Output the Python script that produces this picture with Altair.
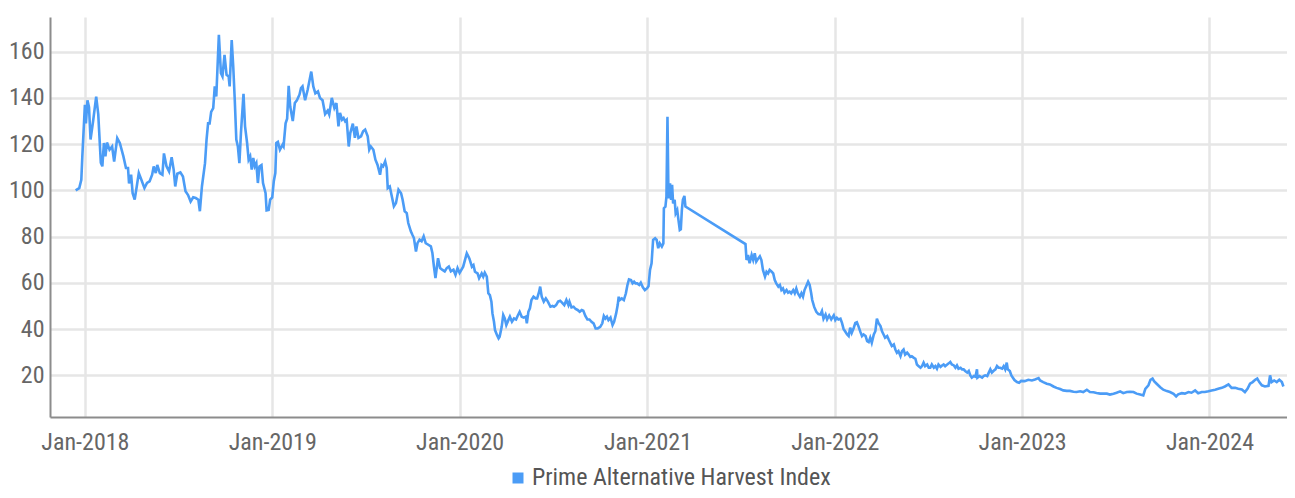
import altair as alt
import pandas as pd

SERIES_NAME = "Prime Alternative Harvest Index"
LINE_COLOR = "#4b9cf6"

# (date, index value), grouped by year
y2018 = [
    ("2017-12-14", 100), ("2017-12-21", 101), ("2017-12-25", 104.6), ("2017-12-27", 114.7),
    ("2018-01-01", 137), ("2018-01-03", 129), ("2018-01-06", 139), ("2018-01-09", 136),
    ("2018-01-12", 122), ("2018-01-17", 130), ("2018-01-23", 140.6), ("2018-01-27", 133),
    ("2018-02-01", 112), ("2018-02-04", 110.4), ("2018-02-07", 120.5), ("2018-02-10", 114.7),
    ("2018-02-13", 120.7), ("2018-02-18", 117.6), ("2018-02-23", 119), ("2018-02-27", 112.5),
    ("2018-03-05", 122.6), ("2018-03-10", 120.5), ("2018-03-17", 114.7), ("2018-03-22", 109.7),
    ("2018-03-26", 109.7), ("2018-03-28", 103), ("2018-04-01", 106.8), ("2018-04-04", 98.8),
    ("2018-04-08", 96), ("2018-04-12", 101.7), ("2018-04-16", 107.5), ("2018-04-21", 104.6),
    ("2018-04-27", 101), ("2018-05-02", 103.2), ("2018-05-07", 103.9), ("2018-05-12", 106.8),
    ("2018-05-15", 110.4), ("2018-05-19", 107.5), ("2018-05-22", 111), ("2018-05-27", 107.5),
    ("2018-06-01", 106.8), ("2018-06-04", 116), ("2018-06-09", 110.4), ("2018-06-14", 108.2),
    ("2018-06-19", 114.4), ("2018-06-23", 108.9), ("2018-06-26", 101.7), ("2018-06-30", 107.2),
    ("2018-07-06", 107.8), ("2018-07-11", 106), ("2018-07-16", 99.6), ("2018-07-21", 98),
    ("2018-07-26", 95.2), ("2018-07-31", 97), ("2018-08-05", 96.7), ("2018-08-10", 96),
    ("2018-08-13", 91), ("2018-08-17", 101.7), ("2018-08-23", 111.8), ("2018-08-26", 122),
    ("2018-08-29", 129), ("2018-09-01", 129), ("2018-09-04", 134), ("2018-09-08", 135.6),
    ("2018-09-11", 145), ("2018-09-14", 140.6), ("2018-09-19", 167.3), ("2018-09-23", 150.7),
    ("2018-09-26", 149.3), ("2018-09-30", 158.6), ("2018-10-04", 150), ("2018-10-08", 149.3),
    ("2018-10-10", 145), ("2018-10-14", 165), ("2018-10-17", 153.6), ("2018-10-20", 139),
    ("2018-10-23", 122), ("2018-10-26", 119), ("2018-10-29", 111.8), ("2018-11-01", 124.8),
    ("2018-11-06", 141.8), ("2018-11-09", 127.7), ("2018-11-13", 120.5), ("2018-11-16", 113.3),
    ("2018-11-19", 114.7), ("2018-11-22", 109), ("2018-11-25", 114), ("2018-11-28", 110.4),
    ("2018-12-01", 111.8), ("2018-12-04", 103.2), ("2018-12-07", 110.4), ("2018-12-11", 111),
    ("2018-12-14", 103.2), ("2018-12-19", 98.8), ("2018-12-21", 91.4), ("2018-12-25", 91.6),
    ("2018-12-28", 96),
]

y2019 = [
    ("2019-01-01", 97), ("2019-01-04", 104), ("2019-01-07", 107.5), ("2019-01-09", 120.5),
    ("2019-01-12", 121), ("2019-01-16", 117.6), ("2019-01-21", 119.7), ("2019-01-23", 119),
    ("2019-01-27", 129), ("2019-01-30", 131), ("2019-02-02", 145.2), ("2019-02-05", 136.3),
    ("2019-02-10", 130), ("2019-02-14", 137.8), ("2019-02-18", 139), ("2019-02-23", 141.4),
    ("2019-02-26", 144.2), ("2019-03-01", 145), ("2019-03-06", 139), ("2019-03-11", 143.5),
    ("2019-03-18", 151.4), ("2019-03-22", 145), ("2019-03-26", 142), ("2019-03-31", 142.8),
    ("2019-04-04", 140), ("2019-04-09", 139), ("2019-04-14", 133), ("2019-04-19", 134.5),
    ("2019-04-22", 132.8), ("2019-04-27", 140), ("2019-05-02", 135.7), ("2019-05-06", 137.8),
    ("2019-05-10", 127.7), ("2019-05-13", 133.5), ("2019-05-17", 130.6), ("2019-05-20", 131.3),
    ("2019-05-23", 129.9), ("2019-05-26", 130.6), ("2019-05-30", 119), ("2019-06-02", 124.8),
    ("2019-06-07", 128.9), ("2019-06-11", 122.7), ("2019-06-14", 127.7), ("2019-06-18", 122.7),
    ("2019-06-23", 123.4), ("2019-06-27", 125.6), ("2019-07-01", 126.3), ("2019-07-06", 123.4),
    ("2019-07-09", 117.6), ("2019-07-12", 119), ("2019-07-17", 117.6), ("2019-07-21", 113.3),
    ("2019-07-25", 111.1), ("2019-07-30", 106.8), ("2019-08-02", 111), ("2019-08-05", 110.4),
    ("2019-08-09", 112.6), ("2019-08-12", 109.7), ("2019-08-14", 101), ("2019-08-18", 101.7),
    ("2019-08-22", 97.4), ("2019-08-26", 93.1), ("2019-08-30", 94.5), ("2019-09-04", 100.3),
    ("2019-09-09", 98.8), ("2019-09-12", 96), ("2019-09-16", 91), ("2019-09-20", 90.2),
    ("2019-09-23", 85.9), ("2019-09-28", 82.3), ("2019-10-01", 80.8), ("2019-10-04", 79.4),
    ("2019-10-08", 73.6), ("2019-10-11", 77.2), ("2019-10-15", 78.7), ("2019-10-19", 78),
    ("2019-10-23", 80.1), ("2019-10-27", 77.2), ("2019-11-01", 76.5), ("2019-11-06", 75.8),
    ("2019-11-09", 72.9), ("2019-11-12", 67.1), ("2019-11-15", 62.1), ("2019-11-20", 70.7),
    ("2019-11-24", 66.4), ("2019-11-28", 65.7), ("2019-12-03", 65), ("2019-12-07", 66.4),
    ("2019-12-11", 67.1), ("2019-12-15", 65), ("2019-12-20", 65.7), ("2019-12-24", 63.5),
    ("2019-12-28", 66.4),
]

y2020 = [
    ("2020-01-01", 64.3), ("2020-01-08", 67), ("2020-01-15", 72.8), ("2020-01-20", 70.6),
    ("2020-01-25", 67), ("2020-01-28", 67.7), ("2020-01-31", 64.8), ("2020-02-05", 64.1),
    ("2020-02-08", 62), ("2020-02-13", 64.1), ("2020-02-16", 62.7), ("2020-02-19", 64.4),
    ("2020-02-23", 62.7), ("2020-02-26", 55.5), ("2020-02-29", 54.7), ("2020-03-03", 51.9),
    ("2020-03-05", 46.8), ("2020-03-08", 43.2), ("2020-03-10", 39.6), ("2020-03-14", 37.4),
    ("2020-03-17", 36), ("2020-03-19", 36.7), ("2020-03-23", 41), ("2020-03-26", 46.1),
    ("2020-03-29", 44.6), ("2020-04-01", 41.8), ("2020-04-05", 43.9), ("2020-04-08", 45.4),
    ("2020-04-12", 43.2), ("2020-04-16", 44.6), ("2020-04-20", 44.2), ("2020-04-23", 45.7),
    ("2020-04-27", 47.5), ("2020-05-01", 45.4), ("2020-05-05", 45), ("2020-05-09", 45.4),
    ("2020-05-11", 42.5), ("2020-05-14", 47.5), ("2020-05-17", 49), ("2020-05-20", 52.6),
    ("2020-05-24", 54), ("2020-05-28", 53.3), ("2020-05-31", 53.3), ("2020-06-04", 56.2),
    ("2020-06-06", 58.4), ("2020-06-09", 54), ("2020-06-13", 51.9), ("2020-06-17", 53.3),
    ("2020-06-21", 51.9), ("2020-06-26", 49.7), ("2020-06-30", 50), ("2020-07-03", 49.7),
    ("2020-07-07", 50.4), ("2020-07-11", 51.9), ("2020-07-15", 52.3), ("2020-07-19", 51.4),
    ("2020-07-23", 50.4), ("2020-07-27", 52.6), ("2020-07-31", 50.4), ("2020-08-02", 51.9),
    ("2020-08-06", 49.4), ("2020-08-10", 49.7), ("2020-08-14", 48.7), ("2020-08-18", 48.3),
    ("2020-08-22", 47.5), ("2020-08-26", 48.3), ("2020-08-29", 48), ("2020-09-02", 45.7),
    ("2020-09-06", 44.2), ("2020-09-10", 44.2), ("2020-09-14", 43.2), ("2020-09-18", 42.5),
    ("2020-09-22", 40.3), ("2020-09-26", 40.3), ("2020-10-01", 41), ("2020-10-05", 42.5),
    ("2020-10-08", 45.7), ("2020-10-11", 44.6), ("2020-10-14", 45.4), ("2020-10-17", 43.9),
    ("2020-10-21", 45), ("2020-10-25", 41.8), ("2020-10-28", 43.2), ("2020-11-01", 46.8),
    ("2020-11-04", 50.4), ("2020-11-06", 54), ("2020-11-08", 52.6), ("2020-11-12", 53.3),
    ("2020-11-16", 52.6), ("2020-11-20", 55.5), ("2020-11-23", 59.1), ("2020-11-26", 61.5),
    ("2020-11-30", 61.2), ("2020-12-03", 59.8), ("2020-12-06", 60.5), ("2020-12-09", 59.8),
    ("2020-12-12", 59.8), ("2020-12-16", 59.1), ("2020-12-19", 60.1), ("2020-12-23", 58.1),
    ("2020-12-27", 56.9), ("2020-12-31", 57.6),
]

y2021 = [
    ("2021-01-03", 58.5), ("2021-01-06", 65.6), ("2021-01-09", 68.5), ("2021-01-12", 78.6),
    ("2021-01-16", 79.3), ("2021-01-19", 78.6), ("2021-01-22", 75), ("2021-01-25", 77.1),
    ("2021-01-29", 75.7), ("2021-02-01", 77.1), ("2021-02-02", 92.3), ("2021-02-05", 93),
    ("2021-02-07", 97.3), ("2021-02-09", 131.9), ("2021-02-11", 96.6), ("2021-02-14", 103.1),
    ("2021-02-16", 95.9), ("2021-02-18", 102.4), ("2021-02-20", 94.4), ("2021-02-23", 95.9),
    ("2021-02-25", 90.1), ("2021-02-28", 91.5), ("2021-03-02", 87.9), ("2021-03-05", 82.9),
    ("2021-03-07", 83.2), ("2021-03-09", 91.5), ("2021-03-11", 95.9), ("2021-03-14", 97.6),
    ("2021-03-16", 93), ("2021-07-11", 76.8), ("2021-07-13", 69.9), ("2021-07-16", 72.1),
    ("2021-07-19", 68.5), ("2021-07-23", 72.1), ("2021-07-26", 69.9), ("2021-07-29", 72.8),
    ("2021-08-01", 69.2), ("2021-08-05", 70.6), ("2021-08-08", 71.5), ("2021-08-11", 69.9),
    ("2021-08-14", 65.6), ("2021-08-18", 62.7), ("2021-08-21", 64.8), ("2021-08-24", 64.1),
    ("2021-08-27", 65.6), ("2021-08-31", 64.8), ("2021-09-03", 64.1), ("2021-09-06", 61.2),
    ("2021-09-09", 59.8), ("2021-09-13", 58.4), ("2021-09-16", 59.1), ("2021-09-19", 56.9),
    ("2021-09-22", 57.6), ("2021-09-25", 55.8), ("2021-09-29", 56.9), ("2021-10-02", 55.8),
    ("2021-10-05", 56.2), ("2021-10-08", 55.5), ("2021-10-12", 56.9), ("2021-10-15", 55.5),
    ("2021-10-18", 57.6), ("2021-10-21", 55.5), ("2021-10-25", 54), ("2021-10-28", 55.5),
    ("2021-10-31", 54), ("2021-11-03", 56.9), ("2021-11-06", 58.4), ("2021-11-10", 60.5),
    ("2021-11-13", 59.1), ("2021-11-16", 55.5), ("2021-11-18", 52.6), ("2021-11-22", 49.5),
    ("2021-11-26", 47.5), ("2021-11-30", 46.5), ("2021-12-04", 46.3), ("2021-12-07", 47.8),
    ("2021-12-10", 44.5), ("2021-12-14", 46.3), ("2021-12-17", 44.2), ("2021-12-21", 45.9),
    ("2021-12-25", 44.2), ("2021-12-30", 46),
]

y2022 = [
    ("2022-01-02", 43.9), ("2022-01-05", 44.9), ("2022-01-08", 44.2), ("2022-01-12", 44.5),
    ("2022-01-15", 42.7), ("2022-01-18", 40.1), ("2022-01-21", 39.1), ("2022-01-25", 37.7),
    ("2022-01-28", 37), ("2022-01-31", 40.6), ("2022-02-03", 38.4), ("2022-02-07", 40.6),
    ("2022-02-10", 42.7), ("2022-02-13", 43), ("2022-02-16", 41.3), ("2022-02-20", 38.7),
    ("2022-02-23", 37), ("2022-02-26", 37.7), ("2022-03-02", 37), ("2022-03-05", 34.8),
    ("2022-03-08", 34.4), ("2022-03-11", 36.3), ("2022-03-14", 34.1), ("2022-03-18", 37.7),
    ("2022-03-21", 39.1), ("2022-03-24", 44.5), ("2022-03-27", 42.7), ("2022-03-31", 41.3),
    ("2022-04-03", 39.1), ("2022-04-06", 37.7), ("2022-04-09", 36.3), ("2022-04-13", 37),
    ("2022-04-16", 35.5), ("2022-04-19", 34.1), ("2022-04-22", 32.7), ("2022-04-26", 33.4),
    ("2022-04-29", 31.2), ("2022-05-02", 29.8), ("2022-05-05", 30.5), ("2022-05-09", 28.3),
    ("2022-05-12", 30.5), ("2022-05-15", 31.2), ("2022-05-18", 29), ("2022-05-22", 29.8),
    ("2022-05-25", 29), ("2022-05-28", 28), ("2022-05-31", 28.3), ("2022-06-04", 27.6),
    ("2022-06-07", 27.2), ("2022-06-10", 24.7), ("2022-06-13", 24), ("2022-06-17", 23.3),
    ("2022-06-20", 24), ("2022-06-23", 25.5), ("2022-06-26", 24), ("2022-06-30", 24.7),
    ("2022-07-03", 23.3), ("2022-07-06", 23.3), ("2022-07-09", 24.7), ("2022-07-13", 23.3),
    ("2022-07-16", 24), ("2022-07-19", 22.9), ("2022-07-22", 24.7), ("2022-07-26", 23.7),
    ("2022-07-29", 24.3), ("2022-08-01", 24.7), ("2022-08-04", 24), ("2022-08-08", 24.7),
    ("2022-08-11", 25.2), ("2022-08-14", 25.8), ("2022-08-17", 24.7), ("2022-08-21", 24.3),
    ("2022-08-24", 23.3), ("2022-08-27", 24.3), ("2022-08-30", 22.9), ("2022-09-03", 23.3),
    ("2022-09-06", 22.6), ("2022-09-09", 22.6), ("2022-09-12", 21.9), ("2022-09-16", 21.2),
    ("2022-09-19", 21.9), ("2022-09-22", 20), ("2022-09-25", 19), ("2022-09-29", 19.7),
    ("2022-10-02", 19.4), ("2022-10-05", 22.6), ("2022-10-06", 19), ("2022-10-10", 19.7),
    ("2022-10-15", 19), ("2022-10-18", 19.7), ("2022-10-21", 20), ("2022-10-25", 19.7),
    ("2022-10-28", 21.2), ("2022-10-31", 22.6), ("2022-11-03", 21.2), ("2022-11-06", 21.9),
    ("2022-11-10", 22.6), ("2022-11-13", 24), ("2022-11-16", 23.3), ("2022-11-19", 23.3),
    ("2022-11-23", 22.9), ("2022-11-26", 24), ("2022-11-29", 22.6), ("2022-12-02", 25.5),
    ("2022-12-04", 22.6), ("2022-12-08", 21.9), ("2022-12-11", 20), ("2022-12-14", 19),
    ("2022-12-17", 18), ("2022-12-22", 17.1), ("2022-12-26", 16.8), ("2022-12-30", 17.6),
]

y2023 = [
    ("2023-01-06", 17.5), ("2023-01-13", 18.1), ("2023-01-20", 17.8), ("2023-01-26", 18.2),
    ("2023-02-02", 18.8), ("2023-02-05", 17.8), ("2023-02-11", 17.1), ("2023-02-18", 16.4),
    ("2023-02-24", 16.1), ("2023-03-03", 15.2), ("2023-03-09", 14.6), ("2023-03-16", 14.1),
    ("2023-03-22", 13.5), ("2023-03-29", 13.3), ("2023-04-04", 13.3), ("2023-04-11", 12.9),
    ("2023-04-17", 12.8), ("2023-04-24", 13.1), ("2023-04-30", 12.8), ("2023-05-07", 13.8),
    ("2023-05-13", 12.8), ("2023-05-20", 12.7), ("2023-05-26", 12.4), ("2023-06-02", 12.1),
    ("2023-06-08", 12.1), ("2023-06-15", 12.1), ("2023-06-21", 11.7), ("2023-06-28", 12.1),
    ("2023-07-04", 12.5), ("2023-07-11", 13.1), ("2023-07-17", 12.3), ("2023-07-24", 12.8),
    ("2023-07-30", 12.9), ("2023-08-06", 12.8), ("2023-08-12", 12.1), ("2023-08-19", 11.7),
    ("2023-08-25", 11.3), ("2023-08-29", 14.2), ("2023-09-04", 15.7), ("2023-09-08", 18.1),
    ("2023-09-12", 18.6), ("2023-09-15", 17.5), ("2023-09-20", 16.4), ("2023-09-27", 14.9),
    ("2023-10-03", 13.8), ("2023-10-10", 13.2), ("2023-10-16", 12.8), ("2023-10-23", 12),
    ("2023-10-28", 10.9), ("2023-11-01", 11.8), ("2023-11-08", 12.3), ("2023-11-14", 12.1),
    ("2023-11-21", 12.8), ("2023-11-27", 12.5), ("2023-12-04", 13.5), ("2023-12-10", 12.3),
    ("2023-12-17", 12.8), ("2023-12-23", 12.8), ("2023-12-30", 13.1),
]

y2024 = [
    ("2024-01-05", 13.5), ("2024-01-12", 13.8), ("2024-01-18", 14.2), ("2024-01-25", 14.6),
    ("2024-01-31", 15.2), ("2024-02-07", 16.1), ("2024-02-13", 14.6), ("2024-02-20", 14.6),
    ("2024-02-26", 14.2), ("2024-03-04", 13.9), ("2024-03-10", 12.8), ("2024-03-15", 14.2),
    ("2024-03-20", 16.4), ("2024-03-25", 17.1), ("2024-03-30", 18.1), ("2024-04-03", 18.6),
    ("2024-04-07", 17.1), ("2024-04-12", 15.7), ("2024-04-18", 15.2), ("2024-04-25", 15.5),
    ("2024-04-28", 20), ("2024-05-01", 17.1), ("2024-05-06", 17.8), ("2024-05-11", 17.1),
    ("2024-05-16", 18.1), ("2024-05-21", 17.1), ("2024-05-24", 15.2),
]

Y_TICKS = [20, 40, 60, 80, 100, 120, 140, 160]
X_TICK_YEARS = [2018, 2019, 2020, 2021, 2022, 2023, 2024]

rows = []
for block in (y2018, y2019, y2020, y2021, y2022, y2023, y2024):
    for d, v in block:
        rows.append({"date": d, "value": v, "series": SERIES_NAME})
df = pd.DataFrame(rows)

FONT = "Roboto Condensed, Roboto, sans-serif"

x_axis = alt.Axis(
    values=[alt.DateTime(year=y, month=1, date=1, utc=True) for y in X_TICK_YEARS],
    labelExpr="utcFormat(datum.value, '%b-%Y')", title=None, ticks=False, tickSize=0,
    labelPadding=13, labelFontSize=24, labelColor="#666666", labelFont=FONT,
    grid=True, gridColor="#e6e6e6", gridWidth=2.5,
    domainColor="#8c8c8c", domainWidth=2,
)
y_axis = alt.Axis(
    values=Y_TICKS, title=None, ticks=False, tickSize=0, labelPadding=6,
    labelFontSize=24, labelColor="#666666", labelFont=FONT,
    grid=True, gridColor="#e6e6e6", gridWidth=2.5,
    domainColor="#8c8c8c", domainWidth=2,
)

chart = alt.Chart(df).mark_line(strokeWidth=2.6).encode(
    x=alt.X("date:T", axis=x_axis,
            scale=alt.Scale(type="utc", domain=[
                alt.DateTime(year=2017, month=10, date=25, utc=True),
                alt.DateTime(year=2024, month=5, date=31, utc=True)])),
    y=alt.Y("value:Q", axis=y_axis, scale=alt.Scale(domain=[2, 175], nice=False, zero=False)),
    color=alt.Color("series:N", scale=alt.Scale(domain=[SERIES_NAME], range=[LINE_COLOR]),
                    legend=alt.Legend(title=None, orient="none", legendX=456, legendY=449,
                                      symbolType="square", symbolSize=121,
                                      symbolFillColor=LINE_COLOR, symbolStrokeWidth=0,
                                      labelFontSize=24, labelColor="#555555", labelFont=FONT,
                                      labelOffset=2, labelLimit=600, padding=0)),
).properties(
    width=1237, height=400,
    autosize=alt.AutoSizeParams(type="none"),
    padding={"left": 42, "top": 9, "right": 0, "bottom": 73},
).configure_view(stroke=None)

chart.save("out.html", embed_options={"renderer": "svg", "actions": False})
